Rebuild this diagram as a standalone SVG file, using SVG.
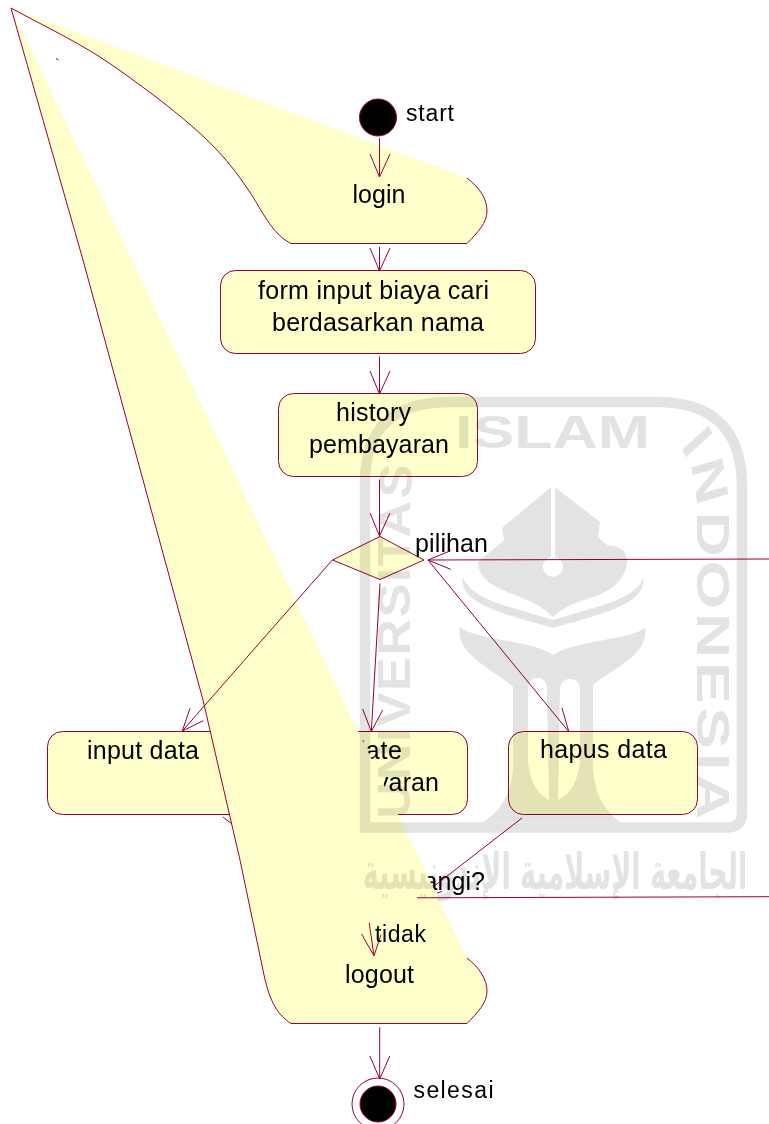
<svg xmlns="http://www.w3.org/2000/svg" xmlns:xlink="http://www.w3.org/1999/xlink" width="769" height="1124" viewBox="0 0 769 1124">
<style>
.s{fill:#ffffcc;stroke:#990033;stroke-width:1}
.c{fill:none;stroke:#990033;stroke-width:1}
.t{font-family:"Liberation Sans",Arial,sans-serif;font-size:25px;fill:#000}
.m{font-size:23px}
.w{font-family:"Liberation Sans",Arial,sans-serif;font-size:46px;font-weight:bold;fill:#e3e3e3}
#watermark{mix-blend-mode:multiply}
</style>
<defs>
<path id="wi" d="M680,331 Q697,350 697,385 L697,625"/>
<path id="wu" d="M410,744 L410,473 Q410,445 416,400"/>
</defs>
<rect width="769" height="1124" fill="#fff"/>
<g id="node-input-data">
<rect class="s" x="47.5" y="731.5" width="200" height="83" rx="15"/>
<text class="t" x="87" y="759" textLength="112">input data</text>
</g>
<g id="node-update">
<rect class="s" x="267.5" y="731.5" width="200" height="83" rx="15"/>
<text class="t" x="322" y="759" textLength="80">update</text>
<text class="t" x="299" y="791" textLength="140">pembayaran</text>
</g>
<g id="node-ulangi">
<path class="s" d="M379,875 L417,898 L379,920 L341,898 Z"/>
<text class="t" x="404" y="890" textLength="81">ulangi?</text>
</g>
<g id="node-logout">
<path class="s" d="M467,958 C480,968 487,980 487,991 C487,1003 478,1012 467,1023.5 L291,1023.5 C278,1015 270,1003 264,975 L240,860 L203,700 L83,260 L11,8"/>
<text class="t" x="345" y="983" textLength="69">logout</text>
</g>
<g id="node-login">
<path class="s" d="M467,178 C480,188 487,199 487,211 C487,223 478,232 467,243.5 L291,243.5 C275,235 268,222 253,197 C240,177 230,164 217,150 C198,130 180,116 160,100 C140,85 120,70 100,57 C70,38 40,24 11,8"/>
<text class="t" x="352.5" y="203" textLength="53">login</text>
</g>
<g id="node-start">
<circle cx="378" cy="117.5" r="18.5" fill="#000" stroke="#990033"/>
<text class="t m" x="406" y="121" textLength="48">start</text>
</g>
<g id="node-form">
<rect class="s" x="220.5" y="270.5" width="315" height="83" rx="15"/>
<text class="t" x="258" y="299" textLength="231">form input biaya cari</text>
<text class="t" x="272" y="331" textLength="212">berdasarkan nama</text>
</g>
<g id="node-history">
<rect class="s" x="278.5" y="393.5" width="199" height="83" rx="15"/>
<text class="t" x="336" y="421" textLength="75">history</text>
<text class="t" x="309" y="453" textLength="140">pembayaran</text>
</g>
<g id="node-pilihan">
<path class="s" d="M380,536.5 L424,560 L380,579.5 L332.5,560 Z"/>
<text class="t" x="415" y="552" textLength="73">pilihan</text>
</g>
<g id="node-hapus">
<rect class="s" x="508.5" y="731.5" width="189" height="83" rx="15"/>
<text class="t" x="540" y="758" textLength="127">hapus data</text>
</g>
<g id="node-selesai">
<circle cx="378" cy="1104" r="26" fill="#fff" stroke="#990033"/>
<circle cx="378" cy="1104" r="18" fill="#000" stroke="#990033"/>
<text class="t m" x="413.5" y="1098" textLength="80">selesai</text>
</g>
<g id="connectors">
<path class="c" d="M379.5,138V177M370,154L379.5,177L390,154"/>
<path class="c" d="M379.5,247V271M370,248L379.5,271L390,248"/>
<path class="c" d="M379.5,356.5V394M370,371L379.5,394L390,371"/>
<path class="c" d="M379.5,479.5V536M370,513L379.5,536L390,513"/>
<path class="c" d="M380,583.5L371.3,731.5M362.7,709L371.3,731.5L382.7,710"/>
<path class="c" d="M332.3,560L182.3,731M190,708.3L182.3,731L203.3,720.7"/>
<path class="c" d="M428,560L568.8,731.7M562,708L568.8,731.7"/>
<path class="c" d="M769,559L428,560M450.7,550.7L428,560L450.7,569.3"/>
<path class="c" d="M522,818L433,887"/>
<path class="c" d="M437,893L442,891.5"/>
<path class="c" d="M417,897.8L769,896.7"/>
<path class="c" d="M369.2,922.8L374,955.8M361.5,934L374,955.8L381,934.6"/>
<path class="c" d="M379.7,1027.4V1079M369.9,1056L379.7,1079L389.8,1056"/>
<path class="c" d="M223,817L232,824"/>
<path class="c" d="M56,58.5L58.5,60"/>
<text class="t m" x="375" y="942" textLength="51">tidak</text>
</g>
<g id="watermark">
<path d="M365,827.5 L365,482 Q365,402 450,402 L657,402 Q742,402 742,487 L742,812 Q742,827.5 727,827.5 Z" fill="none" stroke="#e3e3e3" stroke-width="10.5"/>
<text class="w" x="455" y="448" textLength="195" lengthAdjust="spacingAndGlyphs">ISLAM</text>
<text class="w" transform="scale(1,1.35)" letter-spacing="3"><textPath href="#wi" xlink:href="#wi">INDONESIA</textPath></text>
<text class="w" transform="scale(1,1.1)" letter-spacing="1.5"><textPath href="#wu" xlink:href="#wu">UNIVERSITAS</textPath></text>
<path fill="#e3e3e3" d="M550,488 L502,528 L504,540 L478,562 C478,585 510,592 522,598 C538,604 546,610 553,617 C560,610 570,604 590,598 C610,592 627,580 627,560 C627,548 615,546 607,545 L598,537 L600,522 L556,488 Z"/>
<path fill="#fff" d="M551,488 L555,488 L555,557 A10,10 0 1 1 551,557 Z"/>
<path fill="#e3e3e3" d="M463,577 C458,605 510,615 553,628 C596,615 648,605 643,577 C640,590 625,598 600,606 L553,620 L506,606 C481,598 468,590 463,577 Z"/>
<path fill="#e3e3e3" fill-rule="evenodd" d="M460,627 C475,640 530,640 553,655 C576,640 630,640 645,628 C650,655 610,670 593,685 L593,770 Q596,805 620,822 L483,822 Q510,805 513,770 L513,687 C495,670 455,655 460,627 Z M528,690 Q528,678 537.5,678 Q547,678 547,690 L549,800 Q530,790 528,760 Z M560,690 Q560,679 570,679 Q580,679 580,690 L580,760 Q578,790 558,800 Z"/>
<text transform="translate(555,889) scale(0.75,1.4)" text-anchor="middle" style="font-family:'DejaVu Sans',sans-serif;font-size:36px;font-weight:bold;fill:#e3e3e3" direction="rtl">الجامعة الإسلامية الإندونيسية</text>
</g>
</svg>
